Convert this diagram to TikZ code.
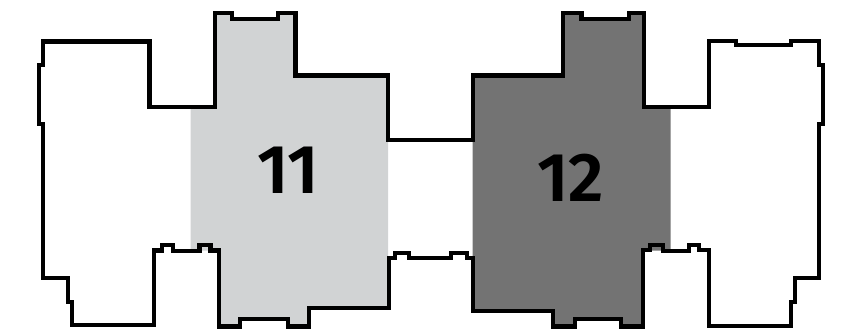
\documentclass[tikz,border=0pt]{standalone}
\usepackage{fontspec}
\setmainfont{Fira Sans}[UprightFont=*, BoldFont=* SemiBold]
\definecolor{unitlight}{RGB}{209, 211, 212}
\definecolor{unitdark}{RGB}{115, 115, 115}
\begin{document}
\begin{tikzpicture}[x=1pt, y=-1pt]
  \tikzset{outline/.style={draw=black, line width=4.2pt, miter limit=10},
    unitnum/.style={font=\fontsize{69}{70}\selectfont\bfseries, text=black, inner sep=0pt}}
  \useasboundingbox (0,0) rectangle (862,330);

  % Shaded units
  \fill[unitlight] (190.5,107) -- (215,107) -- (215,13) -- (232,13) -- (232,19) -- (278,19) -- (278,13) -- (295.5,13)
    -- (295.5,75.5) -- (388,75.5) -- (388,258) -- (389,308.3) -- (309.3,308.3) -- (309.3,326.5) -- (288,326.5)
    -- (288,319.3) -- (240,319.3) -- (240,326.5) -- (219.3,326.5) -- (219.3,250.5) -- (190.5,250.5) -- cycle;
  \fill[unitdark] (472.7,75.5) -- (563.3,75.5) -- (563.3,13) -- (581.5,13) -- (581.5,19) -- (628.7,19) -- (628.7,13)
    -- (643.7,13) -- (643.7,107.3) -- (670.5,107.3) -- (670.5,250.5) -- (643.3,250.5) -- (643.3,326.5) -- (621.3,326.5)
    -- (621.3,318.7) -- (575,318.7) -- (575,326.5) -- (552.7,326.5) -- (552.7,311) -- (472.7,311) -- cycle;

  % Building outline
  \draw[outline] (43,41.5) -- (149.5,41.5) -- (149.5,107) -- (215,107) -- (215,13) -- (232,13) -- (232,19) -- (278,19)
    -- (278,13) -- (295.5,13) -- (295.5,75.5) -- (388,75.5) -- (388,140) -- (472.7,140) -- (472.7,75.5) -- (563.3,75.5)
    -- (563.3,13) -- (581.5,13) -- (581.5,19) -- (628.7,19) -- (628.7,13) -- (643.7,13) -- (643.7,107.3) -- (709,107.3)
    -- (709,41) -- (736.3,41) -- (736.3,45.3) -- (791,45.3) -- (791,41) -- (818.7,41) -- (818.7,65) -- (822.7,65)
    -- (822.7,124) -- (818.7,124) -- (818.7,278.3) -- (794.7,278.3) -- (794.7,301.7) -- (791.3,301.7) -- (791.3,326.3)
    -- (709,326.3) -- (709,250.3) -- (698.7,250.3) -- (698.7,244.7) -- (688.7,244.7) -- (688.7,251) -- (662.7,251)
    -- (662.7,244.7) -- (650,244.7) -- (650,250.3) -- (643.3,250.3) -- (643.3,326.5) -- (621.3,326.5) -- (621.3,318.7)
    -- (575,318.7) -- (575,326.5) -- (552.7,326.5) -- (552.7,311) -- (472.7,311) -- (472.7,257.7) -- (466.7,257.7)
    -- (466.7,252.7) -- (450.7,252.7) -- (450.7,258.3) -- (409.3,258.3) -- (409.3,252.7) -- (394.7,252.7) -- (394.7,257.7)
    -- (389,257.7) -- (389,308.3) -- (309.3,308.3) -- (309.3,326.5) -- (288,326.5) -- (288,319.3) -- (240,319.3)
    -- (240,326.5) -- (219.3,326.5) -- (219.3,250.5) -- (210.5,250.5) -- (210.5,244.7) -- (199.5,244.7) -- (199.5,251)
    -- (172.7,251) -- (172.7,244.7) -- (162,244.7) -- (162,250.5) -- (154,250.5) -- (154,325.3) -- (72.3,325.3)
    -- (72.3,301.7) -- (68.3,301.7) -- (68.3,278.3) -- (43,278.3) -- (43,124) -- (39,124) -- (39,65) -- (43,65) -- cycle;

  % Unit numbers
  \node[unitnum] (unit11) at (288,170.5) {11};
  \node[unitnum] (unit12) at (570.5,178) {12};
\end{tikzpicture}
\end{document}
